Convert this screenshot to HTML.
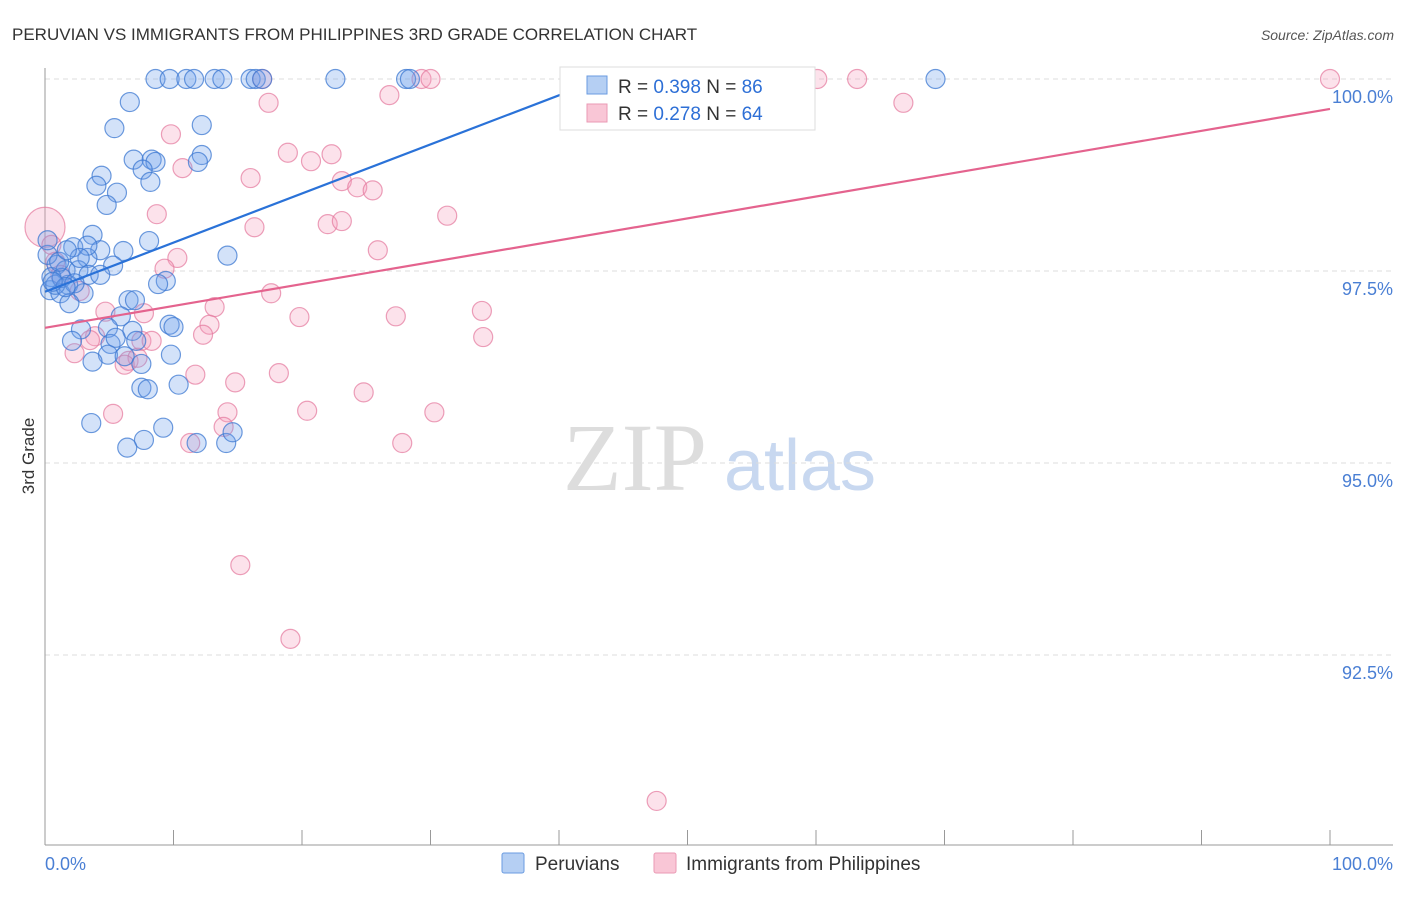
<!DOCTYPE html>
<html><head><meta charset="utf-8"><style>
body{margin:0;background:#fff;font-family:"Liberation Sans",sans-serif}
</style></head><body>
<svg width="1406" height="892" xmlns="http://www.w3.org/2000/svg" font-family="Liberation Sans, sans-serif">
<text x="12" y="40" font-size="17" fill="#333">PERUVIAN VS IMMIGRANTS FROM PHILIPPINES 3RD GRADE CORRELATION CHART</text>
<text x="1394" y="40" font-size="14" fill="#555" font-style="italic" text-anchor="end">Source: ZipAtlas.com</text>
<text x="34" y="456" font-size="17" fill="#333" transform="rotate(-90 34 456)" text-anchor="middle">3rd Grade</text>
<g><text x="635" y="490" font-size="96" fill="#ddd" font-family="Liberation Serif, serif" text-anchor="middle">ZIP</text><text x="800" y="490" font-size="72" fill="#c8d8f0" text-anchor="middle">atlas</text></g>
<g id="grid"></g>
<g id="axes"></g>
<g id="pts"></g>
<g id="lines"></g>
<g>
<rect x="560" y="67" width="255" height="63" fill="#fff" stroke="#ddd"/>
<rect x="587" y="76" width="20" height="18" fill="#b5cff3" stroke="#6a9be0"/>
<rect x="587" y="104" width="20" height="18" fill="#f9c6d6" stroke="#ea9ab4"/>
<text x="618" y="93" font-size="19" fill="#333">R = <tspan fill="#2d6fd6">0.398</tspan>   N = <tspan fill="#2d6fd6">86</tspan></text>
<text x="618" y="120" font-size="19" fill="#333">R = <tspan fill="#2d6fd6">0.278</tspan>   N = <tspan fill="#2d6fd6">64</tspan></text>
</g>
<g>
<rect x="502" y="853" width="22" height="20" fill="#b5cff3" stroke="#6a9be0" rx="2"/>
<text x="535" y="870" font-size="19" fill="#333">Peruvians</text>
<rect x="654" y="853" width="22" height="20" fill="#f9c6d6" stroke="#ea9ab4" rx="2"/>
<text x="686" y="870" font-size="19" fill="#333">Immigrants from Philippines</text>
</g>
</svg>
<script>
const yTicks=[100,97.5,95,92.5];
const yTickLabels=["100.0%","97.5%","95.0%","92.5%"];
const xTickLabels=["0.0%","100.0%"];
const blueX=[8.6,9.7,11.0,11.6,13.2,13.8,16.0,16.4,16.9,22.6,28.1,28.4,69.3,6.6,5.4,12.2,6.9,8.3,8.6,7.6,12.2,11.9,4.4,4.0,5.6,8.2,4.8,3.7,8.1,2.2,4.3,6.1,3.3,14.2,0.9,5.3,1.6,2.6,3.4,0.5,9.4,8.8,1.8,0.4,1.2,3.0,1.9,6.5,7.0,5.9,2.8,4.9,6.8,9.7,10.0,2.1,5.1,5.5,7.1,4.9,3.7,6.2,7.5,9.8,7.5,8.0,10.4,3.6,9.2,7.7,6.4,11.8,14.1,14.6,0.8,1.3,0.2,0.2,3.3,2.3,1.6,1.1,0.6,4.3,2.7,1.7];
const blueY=[100,100,100,100,100,100,100,100,100,100,100,100,100,99.70,99.36,99.40,98.95,98.95,98.92,98.82,99.01,98.92,98.74,98.61,98.52,98.66,98.36,97.97,97.89,97.81,97.77,97.76,97.67,97.70,97.58,97.57,97.51,97.51,97.45,97.42,97.37,97.33,97.32,97.25,97.21,97.21,97.08,97.12,97.12,96.91,96.74,96.76,96.72,96.80,96.77,96.59,96.55,96.63,96.59,96.41,96.32,96.39,96.29,96.41,95.98,95.96,96.02,95.52,95.46,95.30,95.20,95.26,95.26,95.40,97.32,97.41,97.71,97.90,97.83,97.34,97.29,97.62,97.36,97.45,97.67,97.77];
const pinkX=[0,0.5,0.8,16.9,29.3,30.0,60.1,63.2,100,17.4,26.8,66.8,9.8,10.7,18.9,20.7,22.3,16.0,23.1,24.3,25.5,8.7,16.3,22.0,23.1,31.3,25.9,10.3,9.3,2.7,17.6,13.2,4.7,7.7,19.8,27.3,34.0,12.8,12.3,3.9,7.5,8.3,2.3,6.5,7.2,34.1,11.7,18.2,14.8,24.8,5.3,14.2,20.4,30.3,13.9,11.3,27.8,15.2,19.1,47.6,3.5,6.2,1.2];
const pinkY=[98.07,97.84,97.62,100,100,100,100,100,100,99.69,99.79,99.69,99.28,98.84,99.04,98.93,99.02,98.71,98.67,98.59,98.55,98.24,98.07,98.11,98.15,98.22,97.77,97.67,97.53,97.24,97.21,97.03,96.97,96.95,96.90,96.91,96.98,96.80,96.67,96.65,96.59,96.59,96.43,96.33,96.37,96.64,96.15,96.17,96.05,95.92,95.64,95.66,95.68,95.66,95.47,95.26,95.26,93.67,92.71,90.60,96.60,96.28,97.45];
const pinkR=[20];
const blueTrend=[97.23,99.98,43.0];
const pinkTrend=[96.76,99.61];
const NS="http://www.w3.org/2000/svg";
const X=v=>45+v*12.85, Y=v=>79+(100-v)*76.8;
function mk(t,a,p){const e=document.createElementNS(NS,t);for(const k in a)e.setAttribute(k,a[k]);p.appendChild(e);return e;}
const grid=document.getElementById('grid'),axes=document.getElementById('axes'),pts=document.getElementById('pts'),lines=document.getElementById('lines');
yTicks.forEach((t,i)=>{
 const l=mk('line',{x1:45,x2:1393,y1:Y(t),y2:Y(t),stroke:'#ddd','stroke-dasharray':'5,4'},grid);
 
 
 const tx=mk('text',{x:1393,y:Y(t)+24,'font-size':18,fill:'#4a7fd4','text-anchor':'end'},axes);
 tx.textContent=yTickLabels[i];
 
 
});
mk('line',{x1:45,x2:45,y1:68,y2:845,stroke:'#999'},axes);
mk('line',{x1:45,x2:1393,y1:845,y2:845,stroke:'#999'},axes);
for(let i=0;i<=10;i++){const t=mk('line',{x1:X(i*10),x2:X(i*10),y1:830,y2:845,stroke:'#999'},axes);}
[[0,'start',45],[100,'end',1393]].forEach((d,i)=>{const t=mk('text',{x:d[2],y:870,'font-size':18,fill:'#4a7fd4','text-anchor':d[1]},axes);t.textContent=xTickLabels[i];

});
pinkX.forEach((x,i)=>{const c=mk('circle',{cx:X(x),cy:Y(pinkY[i]),r:i===0?pinkR[0]:9.5,fill:'rgba(244,160,188,0.3)',stroke:'rgba(228,120,156,0.7)','stroke-width':1.2},pts);

});
blueX.forEach((x,i)=>{const c=mk('circle',{cx:X(x),cy:Y(blueY[i]),r:9.5,fill:'rgba(110,160,235,0.3)',stroke:'rgba(60,120,210,0.75)','stroke-width':1.2},pts);

});
const bl=mk('line',{x1:X(0),y1:Y(blueTrend[0]),x2:X(blueTrend[2]),y2:Y(blueTrend[1]),stroke:'#2a72d8','stroke-width':2.2},lines);


const pl=mk('line',{x1:X(0),y1:Y(pinkTrend[0]),x2:X(100),y2:Y(pinkTrend[1]),stroke:'#e4638e','stroke-width':2.2},lines);


</script>
</body></html>
